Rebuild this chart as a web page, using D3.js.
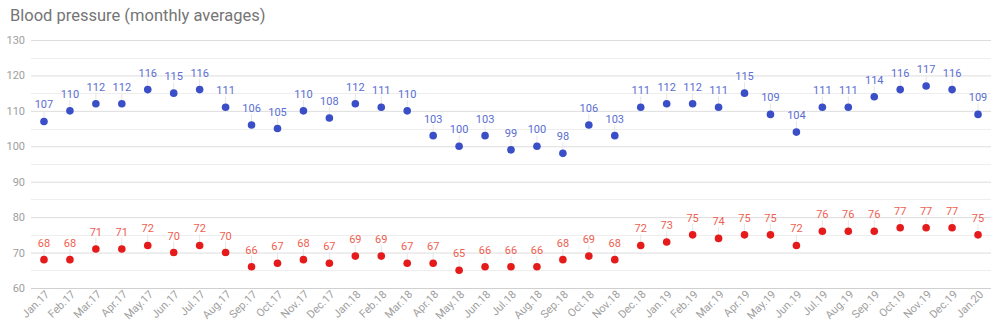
<!DOCTYPE html>
<html>
<head>
<meta charset="utf-8">
<script src="https://cdn.jsdelivr.net/npm/d3@7"></script>
<style>
  html, body { margin: 0; padding: 0; background: #fff; }
  svg { display: block; font-family: Roboto, "Noto Sans", sans-serif; }
</style>
</head>
<body>
<svg id="chart" width="999" height="327"></svg>
<script>
const months = ["Jan.17","Feb.17","Mar.17","Apr.17","May.17","Jun.17","Jul.17","Aug.17","Sep.17","Oct.17","Nov.17","Dec.17",
  "Jan.18","Feb.18","Mar.18","Apr.18","May.18","Jun.18","Jul.18","Aug.18","Sep.18","Oct.18","Nov.18","Dec.18",
  "Jan.19","Feb.19","Mar.19","Apr.19","May.19","Jun.19","Jul.19","Aug.19","Sep.19","Oct.19","Nov.19","Dec.19","Jan.20"];
const systolic = [107,110,112,112,116,115,116,111,106,105,110,108,
  112,111,110,103,100,103,99,100,98,106,103,111,
  112,112,111,115,109,104,111,111,114,116,117,116,109];
const diastolic = [68,68,71,71,72,70,72,70,66,67,68,67,
  69,69,67,67,65,66,66,66,68,69,68,72,
  73,75,74,75,75,72,76,76,76,77,77,77,75];
const yTicks = [60,70,80,90,100,110,120,130];
const title = "Blood pressure (monthly averages)";

const svg = d3.select("#chart");
const mLeft = 31, mRight = 991, mTop = 40, mBottom = 288;

const x = d3.scaleBand().domain(months).range([mLeft, mRight]);
const y = d3.scaleLinear().domain([60,130]).range([mBottom, mTop]);
const cx = d => x(d) + x.bandwidth()/2;

svg.append("text").attr("x", 10).attr("y", 21).attr("font-size", 16.5).attr("fill", "#757575").text(title);

// minor gridlines
const minor = d3.range(65, 130, 10);
svg.append("g").selectAll("line").data(minor).join("line")
  .attr("x1", mLeft).attr("x2", mRight)
  .attr("y1", d => Math.round(y(d)) + 0.5).attr("y2", d => Math.round(y(d)) + 0.5)
  .attr("stroke", "#eeeeee").attr("stroke-width", 1);

// y axis with major gridlines
const yAxis = d3.axisLeft(y).tickValues(yTicks).tickSize(-(mRight - mLeft)).tickPadding(6);
const gy = svg.append("g").attr("transform", `translate(${mLeft},0)`).call(yAxis);
gy.select(".domain").remove();
gy.selectAll(".tick line").attr("stroke", d => d === 60 ? "#d0d0d0" : "#dddddd").attr("stroke-width", 1);
gy.selectAll(".tick text").attr("fill", "#9e9e9e").attr("font-size", 11).attr("font-family", "Roboto, sans-serif").attr("x", -6);

// x axis labels
const xAxis = d3.axisBottom(x).tickSize(0).tickPadding(0);
const gx = svg.append("g").attr("transform", `translate(0,${mBottom})`).call(xAxis);
gx.select(".domain").remove();
gx.selectAll(".tick text")
  .attr("fill", "#9e9e9e").attr("font-size", 11).attr("font-family", "Roboto, sans-serif")
  .attr("text-anchor", "end").attr("dy", null).attr("y", 0)
  .attr("transform", "translate(6,7) rotate(-45)");

function series(vals, dotColor, labelColor) {
  const g = svg.append("g");
  const data = months.map((m, i) => ({m, v: vals[i]}));
  g.selectAll("line.leader").data(data).join("line").attr("class", "leader")
    .attr("x1", d => cx(d.m)).attr("x2", d => cx(d.m))
    .attr("y1", d => y(d.v)).attr("y2", d => y(d.v) - 11)
    .attr("stroke", "#e6e6e6").attr("stroke-width", 1);
  g.selectAll("circle").data(data).join("circle")
    .attr("cx", d => cx(d.m)).attr("cy", d => y(d.v)).attr("r", 3.8)
    .attr("fill", dotColor);
  g.selectAll("text").data(data).join("text")
    .attr("x", d => cx(d.m)).attr("y", d => y(d.v) - 13)
    .attr("text-anchor", "middle").attr("font-size", 11).attr("fill", labelColor)
    .text(d => d.v);
}
series(systolic, "#3a4ec7", "#5a6ed2");
series(diastolic, "#e51b1b", "#ee6050");
</script>
</body>
</html>
